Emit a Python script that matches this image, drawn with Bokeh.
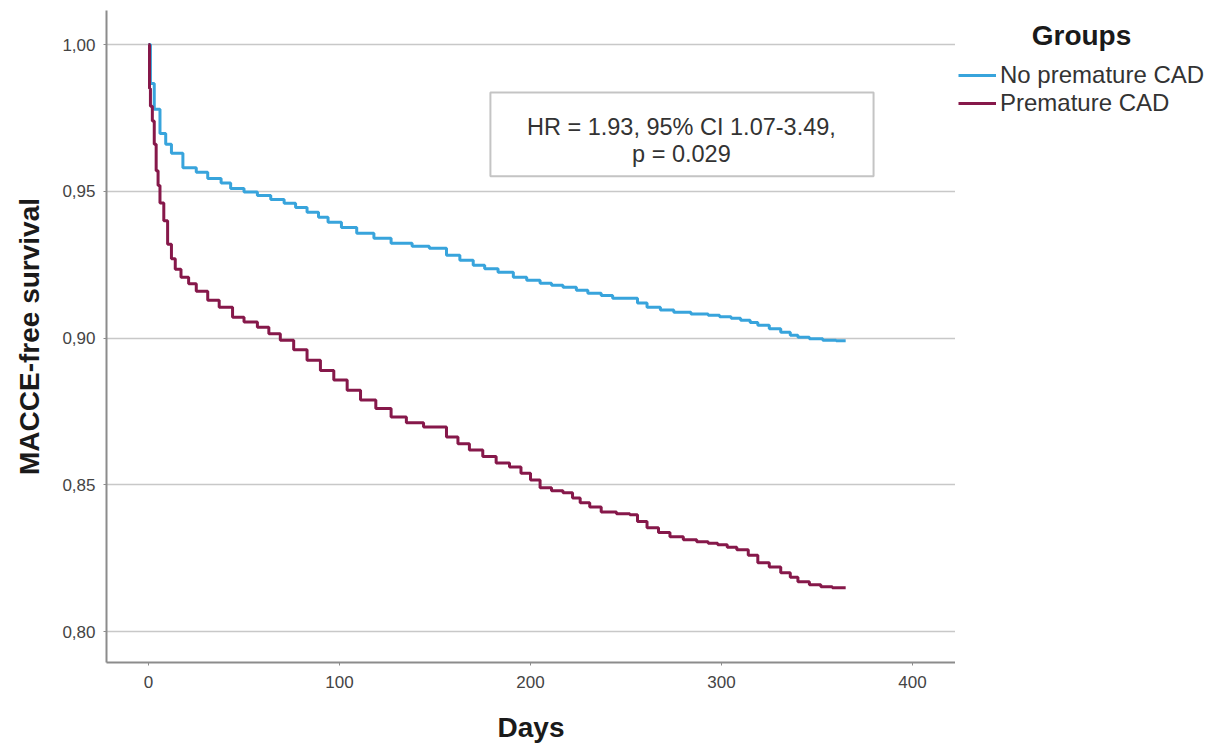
from bokeh.plotting import figure
from bokeh.layouts import row
from bokeh.models import (Range1d, FixedTicker, CustomJSTickFormatter, Legend, LegendItem,
                          BoxAnnotation, Label, ColumnDataSource)
from bokeh.core.properties import value
from bokeh.embed import file_html
from bokeh.resources import INLINE

# ---- data ----
no_prem_days = [0, 1, 3, 6, 9, 12, 18, 25, 31, 38, 43, 50, 57, 64, 71, 77, 83, 89, 94, 101,
                109, 118, 127, 138, 147, 156, 163, 170, 176, 183, 191, 198, 205, 211, 217, 224,
                230, 237, 243, 252, 256, 261, 268, 275, 284, 293, 299, 305, 310, 315, 319, 325,
                331, 336, 340, 346, 353, 360, 365]
no_prem_surv = [1.0, 0.9867, 0.978, 0.9697, 0.966, 0.963, 0.958, 0.9565, 0.9544, 0.9528,
                0.951, 0.9498, 0.9486, 0.9472, 0.9459, 0.9445, 0.9429, 0.9412, 0.9395, 0.9377,
                0.9357, 0.934, 0.9323, 0.9313, 0.9306, 0.9282, 0.9265, 0.9248, 0.9236, 0.9224,
                0.9207, 0.9197, 0.9187, 0.918, 0.9173, 0.9163, 0.9153, 0.9145, 0.9136, 0.9136,
                0.912, 0.9105, 0.9096, 0.9088, 0.9082, 0.9078, 0.9073, 0.9068, 0.9061, 0.9053,
                0.9044, 0.9032, 0.902, 0.901, 0.9003, 0.8998, 0.8993, 0.8991, 0.8991]

prem_days = [0, 0.5, 1, 2, 3, 4, 5, 6, 8, 10, 12, 14, 17, 21, 25, 31, 37, 44, 50, 57,
             63, 69, 76, 83, 90, 97, 104, 111, 119, 127, 135, 144, 153, 156, 162, 168, 175, 182,
             189, 195, 200, 205, 211, 217, 222, 226, 231, 237, 245, 252, 256, 261, 267, 273,
             280, 287, 293, 298, 303, 308, 314, 319, 325, 331, 336, 340, 346, 352, 358, 365]
prem_surv = [1.0, 0.985, 0.979, 0.974, 0.966, 0.957, 0.952, 0.946, 0.940, 0.932,
             0.927, 0.9235, 0.9207, 0.9185, 0.916, 0.9129, 0.9105, 0.9071, 0.9055, 0.9037,
             0.9015, 0.8993, 0.896, 0.8925, 0.889, 0.8857, 0.8822, 0.8789, 0.876, 0.8731,
             0.8712, 0.8697, 0.8697, 0.8663, 0.864, 0.8619, 0.8597, 0.8575, 0.8561, 0.854,
             0.8517, 0.849, 0.848, 0.8473, 0.8455, 0.8439, 0.8425, 0.8408, 0.8402, 0.8398,
             0.8375, 0.8354, 0.8338, 0.8323, 0.8313, 0.8306, 0.8301, 0.8296, 0.8288, 0.8279,
             0.826, 0.8235, 0.822, 0.8201, 0.8185, 0.817, 0.816, 0.8153, 0.815, 0.815]

group_names = ["No premature CAD", "Premature CAD"]
legend_title = "Groups"
x_ticks = [0, 100, 200, 300, 400]
y_ticks = [0.80, 0.85, 0.90, 0.95, 1.00]
stat_lines = ["HR = 1.93, 95% CI 1.07-3.49,", "p = 0.029"]

BLUE = "#38a4dc"
RED = "#86184a"
FONT = "Liberation Sans"

# ---------------- main chart ----------------
p = figure(width=955, height=745, output_backend="svg", toolbar_location=None,
           x_range=Range1d(-22, 422.5), y_range=Range1d(0.7895, 1.0116),
           min_border_left=106, min_border_right=0, min_border_top=10, min_border_bottom=83)
p.outline_line_color = None
p.background_fill_color = "white"
p.border_fill_color = "white"

p.xgrid.grid_line_color = None
p.ygrid.grid_line_color = "#c8c8c8"
p.ygrid.grid_line_width = 1.5

p.xaxis.ticker = FixedTicker(ticks=x_ticks)
p.yaxis.ticker = FixedTicker(ticks=y_ticks)
p.yaxis.formatter = CustomJSTickFormatter(code="return tick.toFixed(2).replace('.', ',');")

for ax in (p.xaxis[0], p.yaxis[0]):
    ax.axis_line_color = "#8c8c8c"
    ax.axis_line_width = 2
    ax.major_tick_line_color = "#8c8c8c"
    ax.major_tick_in = 0
    ax.major_tick_out = 3
    ax.minor_tick_line_color = None
    ax.major_label_text_font = FONT
    ax.major_label_text_font_size = "17px"
    ax.major_label_text_color = "#444444"
    ax.axis_label_text_font = FONT
    ax.axis_label_text_font_size = "28px"
    ax.axis_label_text_font_style = "bold"
    ax.axis_label_text_color = "#1a1a1a"

p.xaxis.axis_label = "Days"
p.yaxis.axis_label = "MACCE-free survival"
p.xaxis.major_label_standoff = 10
p.xaxis.axis_label_standoff = 21
p.yaxis.major_label_standoff = 8
p.yaxis.axis_label_standoff = 14

r1 = p.step(no_prem_days, no_prem_surv, mode="after", line_color=BLUE, line_width=3)
r2 = p.step(prem_days, prem_surv, mode="after", line_color=RED, line_width=3)

# statistics box
box = BoxAnnotation(left=179, right=379.6, top=0.9837, bottom=0.9551,
                    fill_color="white", fill_alpha=1, line_color="#3c3c3c", line_width=2,
                    level="underlay")
p.add_layout(box)
src = ColumnDataSource(dict(x=[279, 279], y=[0.9718, 0.9626], t=stat_lines))
p.text(x="x", y="y", text="t", source=src, text_align="center", text_baseline="middle",
       text_font=value(FONT), text_font_size="23.5px", text_color="#333333")

# ---------------- legend panel (frame aligned with main chart: y 10..662) ----------------
# The y range lies far above the survival values, so the series themselves stay out of
# view here; they only serve as the legend's key glyphs.
q = figure(width=260, height=745, output_backend="svg", toolbar_location=None,
           x_range=Range1d(0, 260), y_range=Range1d(100, 752),
           x_axis_type=None, y_axis_type=None,
           min_border_left=0, min_border_right=0, min_border_top=10, min_border_bottom=83)
q.grid.grid_line_color = None
q.outline_line_color = None
q.background_fill_color = "white"
q.border_fill_color = "white"

k1 = q.line(no_prem_days, no_prem_surv, line_color=BLUE, line_width=3)
k2 = q.line(prem_days, prem_surv, line_color=RED, line_width=3)
legend = Legend(items=[LegendItem(label=group_names[0], renderers=[k1]),
                       LegendItem(label=group_names[1], renderers=[k2])],
                location=(3, 545), margin=0, padding=0, spacing=0,
                border_line_color=None, background_fill_alpha=0,
                label_text_font=FONT, label_text_font_size="24px", label_text_color="#333333",
                glyph_width=38, glyph_height=22, label_height=26, label_standoff=4)
q.add_layout(legend, "center")

title_lbl = Label(x=126, y=627, x_units="screen", y_units="screen", text=legend_title,
                  text_font=FONT, text_font_size="28px", text_font_style="bold",
                  text_color="#1a1a1a", text_align="center", text_baseline="middle")
q.add_layout(title_lbl)

layout = row(p, q)
open("out.html", "w").write(file_html(layout, INLINE))
